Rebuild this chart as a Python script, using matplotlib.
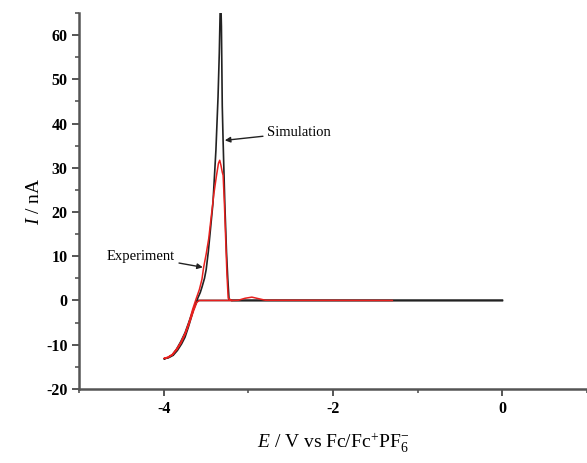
import numpy as np
import matplotlib
matplotlib.use("Agg")
import matplotlib.pyplot as plt
from matplotlib.ticker import MultipleLocator

plt.rcParams['font.family'] = ['Liberation Serif', 'DejaVu Serif']
plt.rcParams['mathtext.fontset'] = 'custom'
plt.rcParams['mathtext.rm'] = 'Liberation Serif'
plt.rcParams['mathtext.it'] = 'Liberation Serif:italic'
plt.rcParams['axes.unicode_minus'] = False

# simulation (black): forward sweep then reverse sweep
sim_E = [0.0, -3.60, -3.62, -3.65, -3.67, -3.71, -3.75, -3.79, -3.84, -3.89, -3.94, -4.00,
         -3.96, -3.90, -3.85, -3.80, -3.75, -3.71, -3.67, -3.63, -3.60, -3.57, -3.55, -3.52,
         -3.50, -3.475, -3.45, -3.42, -3.385, -3.36, -3.345, -3.33, -3.32, -3.31, -3.30,
         -3.28, -3.26, -3.245, -3.23, -3.20, 0.0]
sim_I = [0.0, 0.0, -0.6, -2.0, -3.4, -6.0, -8.3, -9.8, -11.3, -12.4, -12.9, -13.2,
         -13.0, -12.3, -11.0, -9.3, -7.3, -5.2, -3.0, -1.0, 0.5, 1.8, 3.0, 5.0,
         7.0, 11.0, 16.0, 22.0, 34.0, 46.0, 56.0, 70.0, 62.0, 44.0, 36.0,
         22.0, 11.0, 5.0, 0.3, 0.0, 0.0]

# experiment (red)
exp_E = [-1.3, -2.80, -2.88, -2.96, -3.04, -3.12, -3.20, -3.24, -3.255, -3.27, -3.285,
         -3.30, -3.31, -3.325, -3.34, -3.355, -3.38, -3.41, -3.44, -3.47, -3.50, -3.53,
         -3.55, -3.58, -3.62, -3.66, -3.70, -3.75, -3.80, -3.85, -3.90, -3.95, -3.98,
         -4.00, -3.95, -3.90, -3.85, -3.80, -3.75, -3.70, -3.65, -3.61, -3.58, -3.2]
exp_I = [0.0, 0.05, 0.4, 0.75, 0.5, 0.05, 0.0, 0.5, 6.0, 14.0, 22.0,
         28.3, 29.0, 30.5, 31.7, 31.0, 28.0, 24.0, 19.0, 14.0, 10.5, 7.5,
         4.8, 2.5, 0.3, -2.0, -4.8, -7.6, -9.7, -11.2, -12.3, -12.9, -13.1,
         -13.1, -12.8, -12.2, -11.0, -9.5, -7.6, -5.2, -2.4, -0.4, 0.0, 0.0]

fig = plt.figure(figsize=(5.87, 4.63), dpi=100)
ax = fig.add_axes([0.135, 0.16, 0.865, 0.812])

ax.plot(sim_E, sim_I, color='#222222', lw=1.2, zorder=3)
ax.plot(exp_E, exp_I, color='#e8201e', lw=1.1, zorder=4)

ax.set_xlim(-5, 1)
ax.set_ylim(-20, 65)
ax.xaxis.set_major_locator(MultipleLocator(2))
ax.xaxis.set_minor_locator(MultipleLocator(1))
ax.yaxis.set_major_locator(MultipleLocator(10))
ax.yaxis.set_minor_locator(MultipleLocator(5))
ax.set_xticks([-4, -2, 0])

for s in ['top', 'right']:
    ax.spines[s].set_visible(False)
for s in ['left', 'bottom']:
    ax.spines[s].set_color('#555555')
    ax.spines[s].set_linewidth(1.8)

ax.tick_params(which='major', direction='out', length=5, width=1.4, color='#555555',
               labelsize=11.5)
ax.tick_params(which='minor', direction='out', length=3, width=1.2, color='#555555')
for lab in ax.get_xticklabels() + ax.get_yticklabels():
    lab.set_fontweight('bold')

ax.set_xlabel(r'$\it{E}$ / V vs Fc/Fc$^{+}$PF$_{6}^{-}$', fontsize=14, labelpad=11)
ax.set_ylabel(r'$\it{I}$ / nA', fontsize=14, labelpad=2)

ax.annotate('Simulation', xy=(-3.28, 36.2), xytext=(-2.78, 38), fontsize=10.5,
            va='center', ha='left',
            arrowprops=dict(arrowstyle='-|>', color='#222222', lw=1.0, mutation_scale=8,
                            shrinkA=1, shrinkB=0))
ax.annotate('Experiment', xy=(-3.54, 7.5), xytext=(-3.87, 10), fontsize=10.5,
            va='center', ha='right',
            arrowprops=dict(arrowstyle='-|>', color='#222222', lw=1.0, mutation_scale=8,
                            shrinkA=1, shrinkB=0))

fig.savefig('out.png', dpi=100)
